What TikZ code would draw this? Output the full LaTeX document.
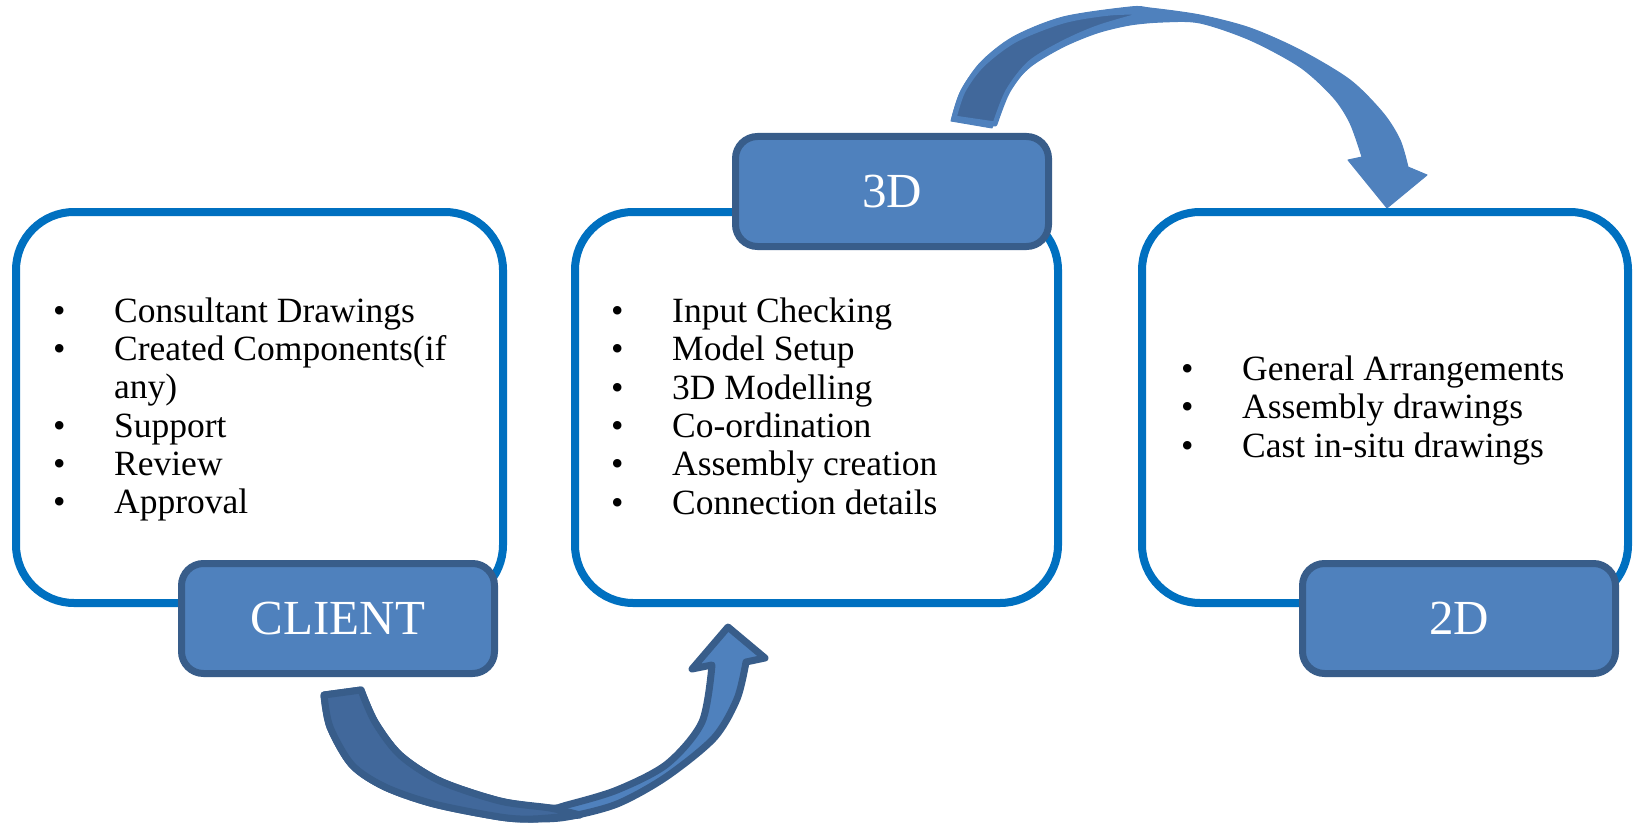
\documentclass[tikz,border=0pt]{standalone}
\usepackage{fontspec}
\setmainfont{Liberation Serif}
\definecolor{boxblue}{HTML}{0070C0}
\definecolor{lblfill}{HTML}{4F81BD}
\definecolor{lbledge}{HTML}{385D8A}
\definecolor{darkband}{HTML}{41689B}
\newcommand\itembul{\makebox[61pt][l]{\textbullet}}
\begin{document}
\begin{tikzpicture}[x=1pt,y=-1pt,
  whitebox/.style={draw=boxblue, line width=8pt, fill=white, rounded corners=58pt,
    minimum height=391pt, inner sep=0pt},
  lblbox/.style={draw=lbledge, fill=lblfill, line width=7pt, rounded corners=22pt,
    minimum width=313pt, minimum height=110pt, inner sep=0pt, text=white,
    font=\fontsize{49}{49}\selectfont},
  listitem/.style={anchor=base west, inner sep=0pt, font=\fontsize{35.5}{38}\selectfont},
  arrowlight/.style={fill=lblfill, draw=lbledge, line width=7pt, line join=round},
  arrowdark/.style={fill=darkband, draw=lbledge, line width=7pt, line join=round},
  toplight/.style={fill=lblfill, draw=lblfill, line width=1pt, line join=round},
  topdark/.style={fill=darkband, draw=lblfill, line width=5pt, line join=round}]
\useasboundingbox (0,0) rectangle (1633,824);

% bottom curved arrow (CLIENT -> 3D)
\path[arrowlight] plot[smooth] coordinates {(324,695) (330,727) (352,765) (385,787) (434,804) (500,817) (533,819) (567,817) (617,804) (666,777) (714,738) (737,699) (746,662)}
  -- (765,658) -- (728,627) -- (692,669) -- (712,665)
  -- plot[smooth] coordinates {(712,665) (702,722) (667,764) (617,790) (567,805) (550,808) (500,801) (440,781) (400,755) (375,722) (361,690)} -- cycle;
\path[arrowdark] plot[smooth] coordinates {(324,695) (330,727) (352,765) (385,787) (434,804) (500,817) (533,819) (580,815)}
  -- plot[smooth] coordinates {(580,815) (550,808) (500,801) (440,781) (400,755) (375,722) (361,690)} -- cycle;

% top curved arrow (3D -> 2D)
\path[toplight] plot[smooth] coordinates {(951,121) (960,93) (980,63) (1013,37) (1063,17) (1130,7) (1150,8) (1200,15) (1250,28) (1300,50) (1350,80) (1383,113) (1400,140) (1408,167)}
  -- (1427,175) -- (1387,208) -- (1348,160) -- (1362,157)
  -- plot[smooth] coordinates {(1362,157) (1350,123) (1333,97) (1300,67) (1250,40) (1200,23) (1163,22) (1130,25) (1097,33) (1063,47) (1030,67) (1007,93) (992,128)} -- cycle;
\path[topdark] plot[smooth] coordinates {(954,118) (963,91) (982,65) (1015,40) (1063,21) (1110,13) (1152,12)}
  -- plot[smooth] coordinates {(1152,12) (1100,27) (1063,43) (1030,63) (1008,91) (995,124)} -- cycle;

% white boxes
\node[whitebox, minimum width=487pt] (clientbox) at (259.5,407.5) {};
\node[whitebox, minimum width=483pt] (modelbox) at (816.5,407.5) {};
\node[whitebox, minimum width=486pt] (drawbox) at (1385,407.5) {};

% label boxes
\node[lblbox] (client) at (338,618.5) {CLIENT};
\node[lblbox] (threed) at (892,191.5) {3D};
\node[lblbox] (twod) at (1459,618.5) {2D};

% client list
\node[listitem] (c1) at (53,322) {\itembul Consultant Drawings};
\node[listitem] (c2) at (53,360) {\itembul Created Components(if};
\node[listitem] (c2b) at (114,398) {any)};
\node[listitem] (c3) at (53,437) {\itembul Support};
\node[listitem] (c4) at (53,475) {\itembul Review};
\node[listitem] (c5) at (53,513) {\itembul Approval};

% 3D list
\node[listitem] (m1) at (611,322) {\itembul Input Checking};
\node[listitem] (m2) at (611,360) {\itembul Model Setup};
\node[listitem] (m3) at (611,399) {\itembul 3D Modelling};
\node[listitem] (m4) at (611,437) {\itembul Co-ordination};
\node[listitem] (m5) at (611,475) {\itembul Assembly creation};
\node[listitem] (m6) at (611,514) {\itembul Connection details};

% 2D list
\node[listitem] (d1) at (1181,380) {\itembul General Arrangements};
\node[listitem] (d2) at (1181,418) {\itembul Assembly drawings};
\node[listitem] (d3) at (1181,457) {\itembul Cast in-situ drawings};
\end{tikzpicture}
\end{document}
